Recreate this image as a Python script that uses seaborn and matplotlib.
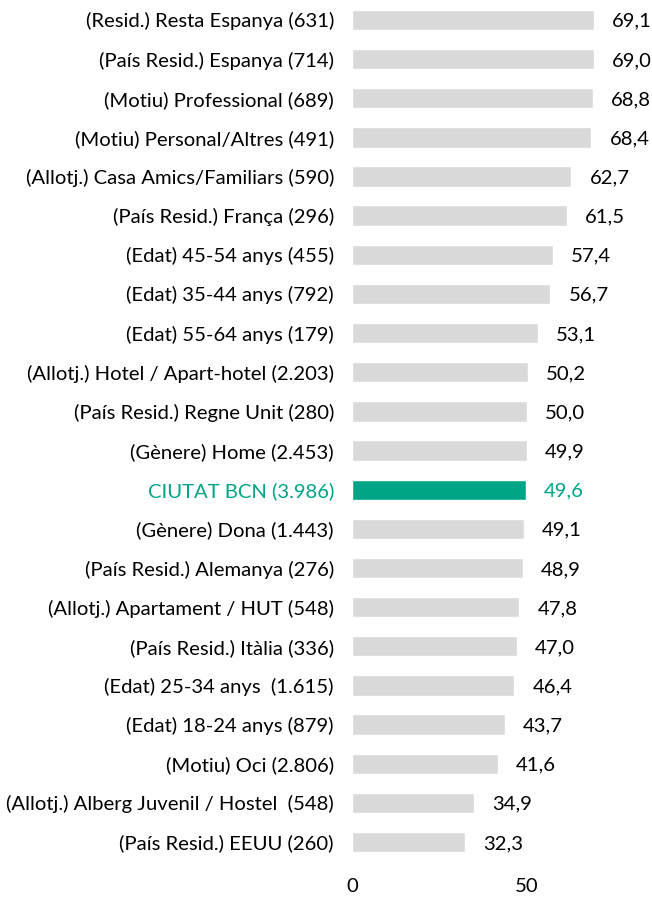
"""Horizontal bar ranking vs. city average"""
import numpy as np
import pandas as pd
import matplotlib
matplotlib.use("Agg")
import matplotlib.pyplot as plt
import seaborn as sns

labels = [
    "(Resid.) Resta Espanya (631)",
    "(País Resid.) Espanya (714)",
    "(Motiu) Professional (689)",
    "(Motiu) Personal/Altres (491)",
    "(Allotj.) Casa Amics/Familiars (590)",
    "(País Resid.) França (296)",
    "(Edat) 45-54 anys (455)",
    "(Edat) 35-44 anys (792)",
    "(Edat) 55-64 anys (179)",
    "(Allotj.) Hotel / Apart-hotel (2.203)",
    "(País Resid.) Regne Unit (280)",
    "(Gènere) Home (2.453)",
    "CIUTAT BCN (3.986)",
    "(Gènere) Dona (1.443)",
    "(País Resid.) Alemanya (276)",
    "(Allotj.) Apartament / HUT (548)",
    "(País Resid.) Itàlia (336)",
    "(Edat) 25-34 anys  (1.615)",
    "(Edat) 18-24 anys (879)",
    "(Motiu) Oci (2.806)",
    "(Allotj.) Alberg Juvenil / Hostel  (548)",
    "(País Resid.) EEUU (260)",
]
values = [69.1, 69.0, 68.8, 68.4, 62.7, 61.5, 57.4, 56.7, 53.1, 50.2, 50.0,
          49.9, 49.6, 49.1, 48.9, 47.8, 47.0, 46.4, 43.7, 41.6, 34.9, 32.3]
highlight = "CIUTAT BCN (3.986)"

GREEN = "#00A587"
GREY = "#D9D9D9"
FS = 14.6

df = pd.DataFrame({"label": labels, "value": values})
palette = {l: (GREEN if l == highlight else GREY) for l in labels}

sns.set_style("white")
plt.rcParams["font.family"] = ["Lato", "DejaVu Sans"]

fig = plt.figure(figsize=(6.52, 8.99), dpi=100)
ax = fig.add_axes([352 / 652, 0.0416, 1 - 352 / 652, 0.958])

sns.barplot(data=df, x="value", y="label", hue="label", palette=palette,
            legend=False, orient="h", width=0.52, ax=ax, saturation=1)

for i, v in enumerate(values):
    c = GREEN if labels[i] == highlight else "black"
    ax.annotate(f"{v:.1f}".replace(".", ","), (v, i), xytext=(13, -1),
                textcoords="offset points", va="center", ha="left",
                fontsize=FS, color=c)

ax.set_xlim(0, 85.7)
ax.set_ylim(len(labels) - 0.5, -0.5)
ax.set_xticks([0, 50])
ax.set_xlabel("")
ax.set_ylabel("")
ax.tick_params(axis="y", length=0, pad=13, labelsize=FS, labelcolor="black")
ax.tick_params(axis="x", length=0, pad=12, labelsize=FS, labelcolor="black")
for t in ax.get_yticklabels():
    if t.get_text() == highlight:
        t.set_color(GREEN)
sns.despine(ax=ax, left=True, bottom=True)

fig.savefig("out.png", dpi=100)
